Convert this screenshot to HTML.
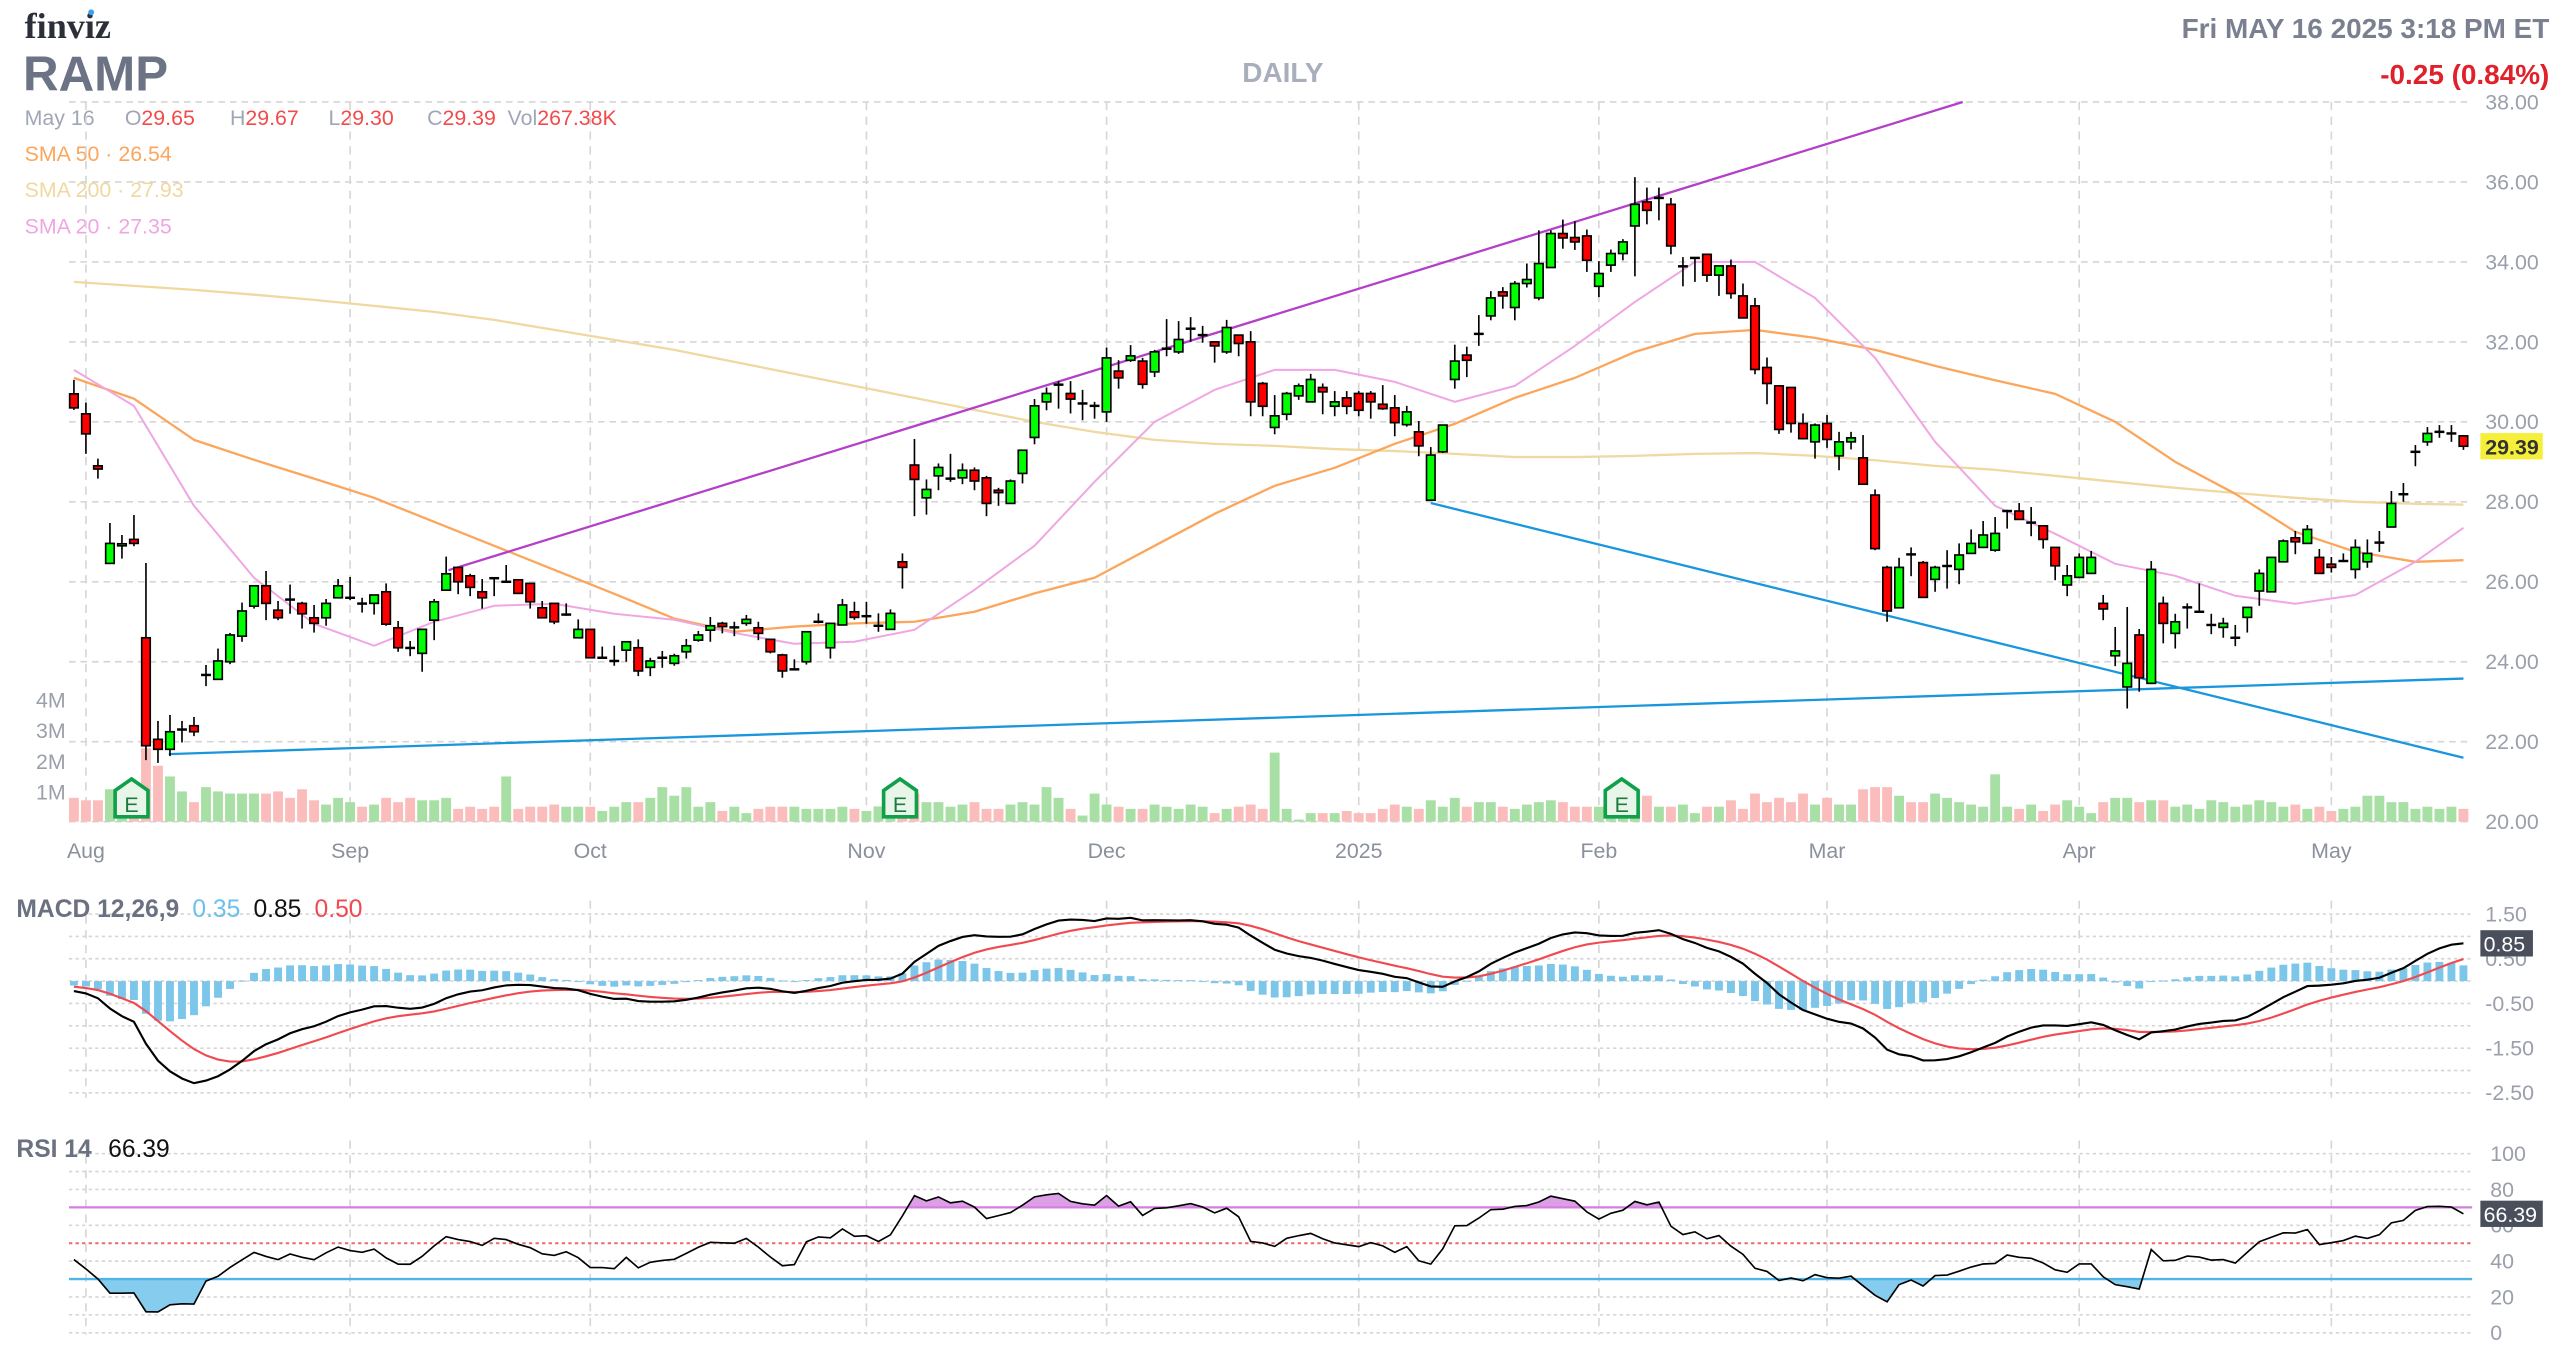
<!DOCTYPE html>
<html><head><meta charset="utf-8"><title>RAMP daily chart</title>
<style>
html,body{margin:0;padding:0;background:#fff;}
svg{display:block;font-family:"Liberation Sans",Arial,sans-serif;}
</style></head>
<body>
<svg id="chart" width="2574" height="1364" viewBox="0 0 1567 830" preserveAspectRatio="none" xmlns="http://www.w3.org/2000/svg">
<rect x="0" y="0" width="1567" height="830" fill="#fff"/>
<g>
<text x="15" y="23" font-family="Liberation Serif,serif" font-weight="bold" font-size="22" fill="#2b2f38">finviz</text>
<circle cx="55.5" cy="7.5" r="1.8" fill="#3aa0f0"/>
<text x="14" y="55" font-weight="bold" font-size="30" fill="#6b7385">RAMP</text>
<text x="781" y="50" text-anchor="middle" font-weight="bold" font-size="17" fill="#a8aebb">DAILY</text>
<text x="1552" y="23" text-anchor="end" font-weight="bold" font-size="17" fill="#7a8090">Fri MAY 16 2025 3:18 PM ET</text>
<text x="1552" y="51" text-anchor="end" font-weight="bold" font-size="17" fill="#e0202a">-0.25 (0.84%)</text>
<text y="76" font-size="13"><tspan x="15" fill="#a0a6b5">May 16</tspan><tspan x="76" fill="#a0a6b5">O</tspan><tspan fill="#f24b4b">29.65</tspan><tspan x="140" fill="#a0a6b5">H</tspan><tspan fill="#f24b4b">29.67</tspan><tspan x="200" fill="#a0a6b5">L</tspan><tspan fill="#f24b4b">29.30</tspan><tspan x="260" fill="#a0a6b5">C</tspan><tspan fill="#f24b4b">29.39</tspan><tspan x="309" fill="#a0a6b5">Vol</tspan><tspan fill="#f24b4b">267.38K</tspan></text>
<text x="15" y="98" font-size="13" fill="#fba65c">SMA 50 · 26.54</text>
<text x="15" y="120" font-size="13" fill="#efd9a0">SMA 200 · 27.93</text>
<text x="15" y="142" font-size="13" fill="#efa6e2">SMA 20 · 27.35</text>
</g>
<g id="layer"></g>
</svg>
<script>
// ---------- DATA ----------
const opens=[30.7,30.2,28.9,26.46,26.9,27.06,24.6,22.06,21.81,22.3,22.4,23.66,23.56,24.0,24.64,25.39,25.9,25.29,25.56,25.46,
25.1,25.1,25.6,25.6,25.46,25.46,25.75,24.85,24.35,24.21,25.04,25.79,26.36,26.15,25.75,26.1,26.0,26.05,25.96,25.35,
25.46,25.18,24.6,24.81,24.1,24.02,24.29,24.35,23.86,24.1,23.96,24.25,24.54,24.79,24.96,24.86,24.96,24.85,24.56,24.17,
23.81,24.0,25.0,24.35,24.92,25.25,25.14,24.9,24.81,26.5,28.92,28.1,28.65,28.58,28.6,28.79,28.6,28.29,27.96,28.71,
29.61,30.5,30.93,30.71,30.46,30.4,30.25,31.27,31.54,31.52,31.25,31.83,31.75,32.33,32.17,32.0,31.75,32.17,32.0,30.96,
29.86,30.19,30.65,30.5,30.86,30.39,30.6,30.71,30.71,30.44,30.35,29.93,29.75,28.04,29.25,31.06,31.67,32.2,32.65,33.25,
32.86,33.46,33.1,33.86,34.71,34.61,34.65,33.39,33.92,34.21,34.9,35.5,35.6,35.44,33.89,34.1,34.19,33.67,33.9,33.15,
32.9,31.36,30.9,30.86,29.96,29.5,29.96,29.15,29.5,29.1,28.17,26.36,25.35,26.69,26.48,26.06,26.39,26.31,26.71,26.86,
26.79,27.77,27.77,27.48,27.4,26.86,25.92,26.11,26.21,25.46,24.15,23.37,24.67,23.46,25.46,24.71,25.36,25.25,24.92,24.86,
24.6,25.11,25.77,25.75,26.5,27.1,26.96,26.61,26.44,26.52,26.31,26.5,26.98,27.37,28.19,29.25,29.5,29.75,29.71,29.65];
const highs=[31.05,30.48,29.08,27.47,27.17,27.67,26.47,22.52,22.67,22.52,22.62,23.92,24.33,24.72,25.48,25.9,26.27,25.52,25.93,25.5,
25.42,25.57,26.07,26.12,25.6,25.67,25.96,25.02,24.52,24.81,25.57,26.63,26.36,26.2,26.07,26.1,26.42,26.05,25.96,25.52,
25.46,25.46,25.06,24.81,24.38,24.4,24.5,24.56,24.1,24.27,24.2,24.57,24.77,25.12,25.0,25.0,25.17,25.0,24.56,24.2,
24.06,24.75,25.21,24.96,25.57,25.5,25.5,25.21,25.31,26.71,29.57,28.56,28.96,29.2,28.96,28.86,28.65,28.35,28.56,29.29,
30.57,30.86,31.02,31.02,30.8,30.5,31.86,31.54,31.92,31.6,31.8,32.57,32.52,32.62,32.4,32.0,32.55,32.17,32.27,31.0,
30.67,30.75,30.96,31.2,30.96,30.77,30.77,30.77,30.77,30.92,30.67,30.4,30.02,29.37,29.92,31.93,31.88,32.67,33.27,33.37,
33.52,33.96,34.79,34.79,35.06,35.02,34.81,34.02,34.31,34.57,36.12,35.86,35.86,35.6,34.12,34.1,34.19,33.9,34.06,33.46,
33.1,31.61,30.9,30.86,30.21,29.96,30.17,29.75,29.75,29.67,28.31,26.4,26.6,26.86,26.52,26.4,26.79,26.96,27.31,27.52,
27.62,27.8,27.97,27.87,27.4,26.86,26.42,26.71,26.77,25.67,24.87,25.37,24.82,26.52,25.63,25.2,25.46,25.96,25.2,25.1,
24.92,25.36,26.31,26.61,27.06,27.27,27.42,26.82,26.62,26.71,27.06,27.06,27.27,28.27,28.47,29.42,29.87,29.92,29.92,29.67];
const lows=[30.3,29.2,28.58,26.46,26.58,26.89,21.54,21.47,21.64,21.98,22.14,23.39,23.56,23.94,24.5,25.33,25.04,25.04,25.2,24.83,
24.73,24.9,25.6,25.54,25.23,25.18,24.9,24.25,24.14,23.75,24.54,25.79,25.69,25.64,25.33,25.64,26.0,25.71,25.33,25.1,
24.94,25.15,24.6,24.1,24.08,23.9,24.0,23.64,23.64,23.85,23.9,24.08,24.5,24.5,24.71,24.64,24.9,24.54,24.21,23.6,
23.81,23.93,24.96,24.08,24.92,25.05,24.95,24.75,24.81,25.83,27.64,27.68,28.29,28.5,28.44,28.29,27.64,27.9,27.96,28.46,
29.44,30.29,30.33,30.21,30.04,30.08,30.0,30.83,31.5,30.83,31.12,31.64,31.7,32.0,31.98,31.48,31.7,31.64,30.14,30.14,
29.69,30.04,30.55,30.5,30.19,30.14,30.19,30.14,30.08,30.3,29.64,29.88,29.14,28.04,29.22,30.83,31.12,31.9,32.54,32.83,
32.54,33.36,33.04,33.86,34.33,34.3,33.75,33.12,33.75,34.04,33.64,34.94,35.04,34.19,33.39,33.5,33.5,33.15,33.08,32.6,
31.19,30.44,29.7,29.73,29.56,29.08,29.35,28.79,29.31,28.44,26.79,25.0,25.35,26.14,25.61,25.75,25.83,25.94,26.71,26.86,
26.75,27.33,27.56,27.14,26.83,26.04,25.64,26.11,26.21,25.04,23.89,22.83,23.25,23.46,24.46,24.33,24.83,25.25,24.69,24.6,
24.39,24.73,25.4,25.75,26.5,26.69,26.96,26.21,26.23,26.52,26.08,26.35,26.75,27.37,28.0,28.89,29.4,29.6,29.5,29.30];
const closes=[30.35,29.7,28.82,26.96,26.95,26.96,21.9,21.81,22.25,22.31,22.25,23.68,24.02,24.67,25.27,25.9,25.46,25.1,25.55,25.2,
24.96,25.46,25.9,25.6,25.45,25.67,24.94,24.35,24.34,24.81,25.5,26.2,26.0,25.86,25.6,26.08,26.0,25.71,25.5,25.1,
25.0,25.18,24.81,24.1,24.1,24.02,24.5,23.77,24.02,24.1,24.15,24.4,24.67,24.9,24.88,24.86,25.06,24.71,24.25,23.77,
23.81,24.75,25.0,24.96,25.42,25.11,25.14,24.9,25.21,26.36,28.56,28.31,28.86,28.58,28.79,28.52,27.96,28.23,28.52,29.29,
30.4,30.71,30.93,30.57,30.46,30.4,31.6,31.1,31.65,30.94,31.75,31.83,32.06,32.33,32.17,31.9,32.36,31.96,30.5,30.39,
30.15,30.71,30.9,31.06,30.75,30.5,30.39,30.29,30.5,30.33,29.98,30.25,29.4,29.17,29.92,31.52,31.54,32.2,33.1,33.15,
33.46,33.56,33.96,34.71,34.6,34.5,34.04,33.71,34.21,34.5,35.44,35.29,35.6,34.4,33.89,34.1,33.67,33.9,33.21,32.6,
31.31,30.96,29.81,29.96,29.58,29.92,29.56,29.5,29.6,28.44,26.83,25.27,26.36,26.68,25.61,26.36,26.4,26.67,26.96,27.17,
27.21,27.77,27.56,27.48,27.06,26.4,26.15,26.61,26.61,25.32,24.27,23.96,23.6,26.31,24.96,25.0,25.36,25.25,24.92,24.96,
24.6,25.36,26.21,26.61,27.02,27.0,27.31,26.21,26.36,26.52,26.86,26.71,26.98,27.96,28.19,29.25,29.71,29.75,29.71,29.39];
// volume in millions
const volumes=[.78,.70,.70,1.06,.80,.80,2.40,1.83,1.48,.99,.64,1.13,.99,.92,.92,.92,.92,.99,.78,1.06,
.70,.56,.78,.64,.49,.56,.78,.64,.78,.70,.70,.78,.42,.49,.42,.49,1.48,.42,.49,.49,
.56,.49,.49,.49,.35,.49,.64,.64,.78,1.13,.85,1.13,.49,.64,.35,.49,.28,.42,.49,.49,
.49,.42,.42,.42,.49,.42,.35,.50,.50,.50,.92,.64,.64,.49,.56,.64,.42,.42,.56,.64,
.56,1.13,.78,.42,.20,.92,.56,.49,.42,.42,.56,.49,.42,.56,.49,.28,.42,.49,.56,.42,
2.26,.42,.07,.28,.28,.28,.35,.28,.28,.42,.56,.49,.42,.70,.49,.78,.49,.64,.64,.49,
.42,.56,.64,.70,.64,.49,.49,.49,.30,.30,.30,.85,.49,.49,.56,.28,.49,.49,.70,.42,
.92,.64,.78,.64,.92,.56,.78,.56,.56,1.06,1.13,1.13,.85,.64,.64,.92,.78,.64,.56,.49,
1.55,.49,.42,.56,.35,.56,.70,.49,.28,.64,.78,.78,.64,.70,.70,.49,.56,.42,.70,.64,
.49,.56,.70,.64,.49,.56,.42,.49,.35,.42,.49,.85,.85,.64,.64,.42,.49,.42,.49,.42];
// moving averages sampled at these candle indices
const smaIdx=[0,5,10,15,20,25,30,35,40,45,50,55,60,65,70,75,80,85,90,95,100,105,110,115,120,125,130,135,140,145,150,155,160,165,170,175,180,185,190,195,199];
const sma20=[31.3,30.4,27.9,26.1,24.95,24.4,25.0,25.4,25.45,25.2,25.05,24.72,24.45,24.5,24.8,25.8,26.9,28.5,30.0,30.8,31.3,31.3,31.0,30.5,30.9,31.9,33.0,34.0,34.0,33.1,31.6,29.5,27.9,27.2,26.45,26.15,25.65,25.45,25.67,26.5,27.35];
const sma50=[31.1,30.58,29.55,29.05,28.58,28.1,27.5,26.9,26.3,25.7,25.08,24.75,24.88,24.96,25.0,25.25,25.71,26.1,26.9,27.7,28.4,28.85,29.45,29.95,30.6,31.1,31.75,32.2,32.3,32.1,31.8,31.4,31.04,30.7,30.0,29.0,28.2,27.25,26.75,26.5,26.54];
const sma200=[33.5,33.4,33.3,33.18,33.05,32.9,32.75,32.55,32.3,32.05,31.8,31.5,31.2,30.9,30.6,30.3,30.0,29.75,29.55,29.45,29.4,29.32,29.27,29.2,29.12,29.12,29.15,29.2,29.22,29.15,29.04,28.9,28.8,28.65,28.5,28.35,28.22,28.1,28.0,27.95,27.93];
// trendlines [startIdx, startPrice, endIdx, endPrice]
const resistLine=[31.2,26.29,157.3,38.0];
const supportLine=[7.9,21.69,199,23.58];
const fallLine=[113,27.97,199,21.6];
const monthIdx=[1,23,43,66,86,107,127,146,167,188];
const monthLabels=["Aug","Sep","Oct","Nov","Dec","2025","Feb","Mar","Apr","May"];
const priceTicks=[38,36,34,32,30,28,26,24,22,20];
const volTicks=[4,3,2,1];
const earnIdx=[4.8,68.8,128.9];
const macdTicks=[1.5,0.5,-0.5,-1.5,-2.5];
const macdGrid=[1.5,1,0.5,0,-0.5,-1,-1.5,-2,-2.5];
const rsiTicks=[100,80,60,40,20,0];
const rsiGrid=[100,90,80,60,50,40,20,10,0];
const macdSeed=[30.6,30.82,-0.1]; // ema12, ema26, signal before first bar
const rsiSeed=[0.15,0.19];        // avg gain, avg loss before first bar

// ---------- HELPERS ----------
const NS="http://www.w3.org/2000/svg";
const layer=document.getElementById('layer');
function mk(tag,attrs,parent){const e=document.createElementNS(NS,tag);for(const k in attrs)e.setAttribute(k,attrs[k]);(parent||layer).appendChild(e);return e;}
const X=i=>45+i*7.31;
const PY=p=>500-(p-20)*24.33;
const VY=v=>500-v*18.6;
const MY=v=>597-v*27.2;
const RY=v=>702+(100-v)*1.09;
const L=42,R=1505;

// ---------- GRID ----------
priceTicks.forEach(p=>{
  const g=mk('line',{x1:L,x2:R,y1:PY(p),y2:PY(p),stroke:'#d6d6d6','stroke-dasharray':'4 3','stroke-width':1});
  
  
  const t=mk('text',{x:1513,y:PY(p)+4.5,'font-size':13,fill:'#9a9fab'});
  t.textContent=p.toFixed(2);
  
  
});
monthIdx.forEach((mi,k)=>{
  [[62,500],[548,668],[694,812]].forEach(r=>{
    const v=mk('line',{x1:X(mi),x2:X(mi),y1:r[0],y2:r[1],stroke:'#d6d6d6','stroke-dasharray':'5 4','stroke-width':1});
    
    
  });
  const t=mk('text',{x:X(mi),y:522,'text-anchor':'middle','font-size':13,fill:'#8a909c'});
  t.textContent=monthLabels[k];
  
  
});
volTicks.forEach(v=>{
  const t=mk('text',{x:40,y:VY(v)+5,'text-anchor':'end','font-size':13,fill:'#9a9fab'});
  t.textContent=v+'M';
  
  
});

// ---------- VOLUME ----------
volumes.forEach((v,i)=>{
  const up=closes[i]>=opens[i];
  const b=mk('rect',{x:X(i)-3,y:VY(v),width:6,height:500-VY(v),fill:up?'#a8dfa5':'#fbbcbc'});
  
  
});
earnIdx.forEach(ei=>{
  const cx=X(ei);
  const g=mk('g',{});
  
  
  mk('path',{d:`M${cx-10},${481} L${cx},${474} L${cx+10},${481} L${cx+10},${497} L${cx-10},${497} Z`,fill:'#e8f6ea',stroke:'#10a04a','stroke-width':2.2},g);
  const t=mk('text',{x:cx,y:494,'text-anchor':'middle','font-size':13,fill:'#1d7a3f'},g);
  t.textContent='E';
});

// ---------- SMAs ----------
function polyFromSamples(vals,color,w,name){
  const pts=smaIdx.map((ix,k)=>X(ix)+','+PY(vals[k])).join(' ');
  const p=mk('polyline',{points:pts,fill:'none',stroke:color,'stroke-width':w,'stroke-linejoin':'round'});
  
  
}
polyFromSamples(sma200,'#efd9a0',1.4,'sma200-line');
polyFromSamples(sma50,'#fba65c',1.4,'sma50-line');
polyFromSamples(sma20,'#efa6e2',1.2,'sma20-line');

// ---------- TRENDLINES ----------
function tline(a,color,name){
  const l=mk('line',{x1:X(a[0]),y1:PY(a[1]),x2:X(a[2]),y2:PY(a[3]),stroke:color,'stroke-width':1.4});
  
  
}
tline(resistLine,'#b43fc9','resistance-trendline');
tline(supportLine,'#1a96dd','support-trendline');
tline(fallLine,'#1a96dd','falling-trendline');

// ---------- CANDLES ----------
closes.forEach((c,i)=>{
  const o=opens[i],h=highs[i],lo=lows[i],x=X(i);
  const g=mk('g',{});
  
  
  mk('line',{x1:x,x2:x,y1:PY(h),y2:PY(lo),stroke:'#000','stroke-width':1},g);
  const top=PY(Math.max(o,c)),bot=PY(Math.min(o,c));
  if(bot-top<1.2){
    mk('line',{x1:x-3,x2:x+3,y1:(top+bot)/2,y2:(top+bot)/2,stroke:'#000','stroke-width':1.5},g);
  } else {
    mk('rect',{x:x-2.6,y:top,width:5.2,height:bot-top,fill:c>=o?'#00ff00':'#ff0000',stroke:'#000','stroke-width':1},g);
  }
});
const lastY=PY(closes[closes.length-1]);
const pb=mk('rect',{x:1510,y:lastY-8,width:38,height:16,fill:'#f5ef3a'});


const pt=mk('text',{x:1513,y:lastY+5,'font-size':13,fill:'#333','font-weight':'bold'});
pt.textContent=closes[closes.length-1].toFixed(2);



// ---------- MACD ----------
const macd=[],signal=[],hist=[];
let e12=macdSeed[0],e26=macdSeed[1],sg=macdSeed[2];
closes.forEach(c=>{e12+= (c-e12)*2/13; e26+=(c-e26)*2/27; const m=e12-e26; sg+=(m-sg)*2/10; macd.push(m); signal.push(sg); hist.push(m-sg);});
macdGrid.forEach(v=>{
  const g=mk('line',{x1:L,x2:R,y1:MY(v),y2:MY(v),stroke:'#d6d6d6','stroke-dasharray':'2 2','stroke-width':1});
  
  
});
macdTicks.forEach(v=>{
  const t=mk('text',{x:1513,y:MY(v)+4.5,'font-size':13,fill:'#9a9fab'});
  t.textContent=v.toFixed(2);
  
  
});
hist.forEach((h,i)=>{
  const y0=MY(0),y1=MY(h);
  const b=mk('rect',{x:X(i)-2.4,y:Math.min(y0,y1),width:4.8,height:Math.max(0.6,Math.abs(y1-y0)),fill:'#7cc6ea'});
  
  
});
const sigLine=mk('polyline',{points:signal.map((v,i)=>X(i)+','+MY(v)).join(' '),fill:'none',stroke:'#f04a50','stroke-width':1.3});


const mLine=mk('polyline',{points:macd.map((v,i)=>X(i)+','+MY(v)).join(' '),fill:'none',stroke:'#000','stroke-width':1.3});


const mLast=macd[macd.length-1];
const mb=mk('rect',{x:1510,y:MY(mLast)-8,width:32,height:16,fill:'#4a4f5c'});


const mbt=mk('text',{x:1512,y:MY(mLast)+5,'font-size':13,fill:'#fff'});
mbt.textContent='0.85';


const ml=mk('text',{x:10,y:558,'font-size':15});
ml.innerHTML='<tspan fill="#6b7180" font-weight="bold">MACD 12,26,9</tspan><tspan dx="8" fill="#6cc0ec">0.35</tspan><tspan dx="8" fill="#111">0.85</tspan><tspan dx="8" fill="#f04a50">0.50</tspan>';



// ---------- RSI ----------
const rsi=[];
let ag=rsiSeed[0],al=rsiSeed[1],prev=closes[0]+0.35;
closes.forEach(c=>{const d=c-prev; ag=(ag*13+Math.max(d,0))/14; al=(al*13+Math.max(-d,0))/14; rsi.push(100-100/(1+ag/al)); prev=c;});
rsiGrid.forEach(v=>{
  const g=mk('line',{x1:L,x2:R,y1:RY(v),y2:RY(v),stroke:'#d6d6d6','stroke-dasharray':'2 2','stroke-width':1});
  
  
});
rsiTicks.forEach(v=>{
  const t=mk('text',{x:1516,y:RY(v)+4.5,'font-size':13,fill:'#9a9fab'});
  t.textContent=String(v);
  
  
});
const clipA=mk('clipPath',{id:'ca'}); mk('rect',{x:0,y:0,width:1567,height:RY(70)},clipA);
const clipB=mk('clipPath',{id:'cb'}); mk('rect',{x:0,y:RY(30),width:1567,height:200},clipB);
const areaPts=(base)=>`${X(0)},${RY(base)} `+rsi.map((v,i)=>X(i)+','+RY(v)).join(' ')+` ${X(rsi.length-1)},${RY(base)}`;
const fa=mk('polygon',{points:areaPts(70),fill:'#dc9fe6','clip-path':'url(#ca)'});


const fb=mk('polygon',{points:areaPts(30),fill:'#86ccee','clip-path':'url(#cb)'});


const l70=mk('line',{x1:L,x2:R,y1:RY(70),y2:RY(70),stroke:'#d47fe0','stroke-width':1.4});


const l50=mk('line',{x1:L,x2:R,y1:RY(50),y2:RY(50),stroke:'#f06a6a','stroke-dasharray':'2 2','stroke-width':1.2});


const l30=mk('line',{x1:L,x2:R,y1:RY(30),y2:RY(30),stroke:'#4fb4e8','stroke-width':1.4});


const rl=mk('polyline',{points:rsi.map((v,i)=>X(i)+','+RY(v)).join(' '),fill:'none',stroke:'#000','stroke-width':1});


const rLast=rsi[rsi.length-1];
const rb=mk('rect',{x:1510,y:RY(rLast)-8,width:38,height:16,fill:'#4a4f5c'});


const rbt=mk('text',{x:1512,y:RY(rLast)+5,'font-size':13,fill:'#fff'});
rbt.textContent='66.39';


const rlg=mk('text',{x:10,y:704,'font-size':15});
rlg.innerHTML='<tspan fill="#6b7180" font-weight="bold">RSI 14</tspan><tspan dx="10" fill="#111">66.39</tspan>';


</script>
</body></html>
